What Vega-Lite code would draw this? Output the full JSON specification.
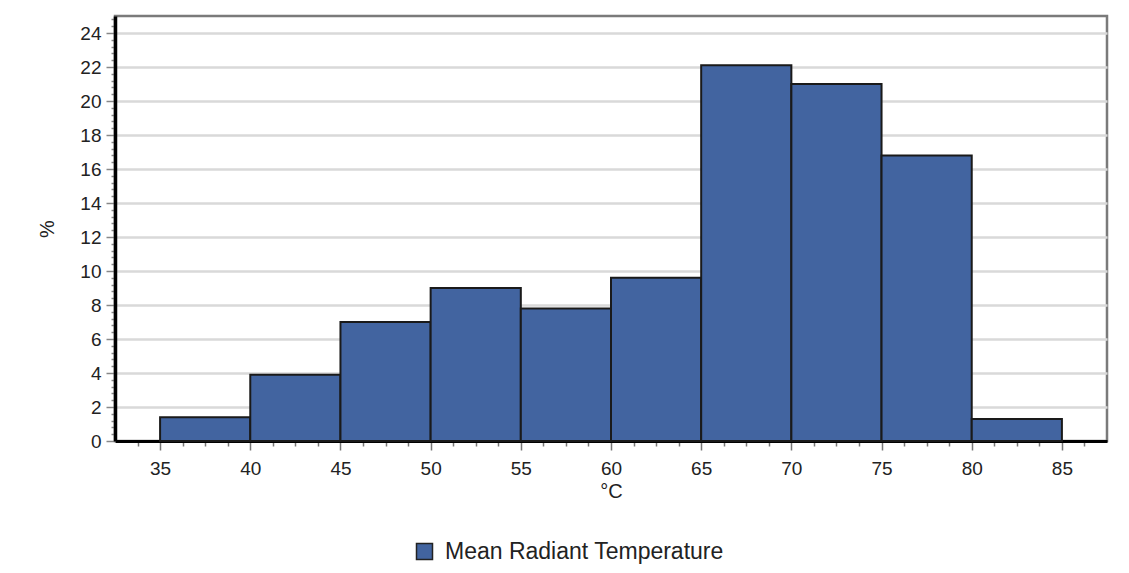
{
  "$schema": "https://vega.github.io/schema/vega-lite/v6.json",
  "width": 992,
  "height": 425,
  "autosize": {"type": "none"},
  "padding": {"left": 115, "top": 16, "right": 22, "bottom": 132},
  "background": "white",
  "config": {
    "font": "Liberation Sans",
    "view": {"stroke": "#7a7a7a", "strokeWidth": 2.5}
  },
  "data": {
    "values": [
      {"bin_start": 35, "bin_end": 40, "percent": 1.4, "series": "Mean Radiant Temperature"},
      {"bin_start": 40, "bin_end": 45, "percent": 3.9, "series": "Mean Radiant Temperature"},
      {"bin_start": 45, "bin_end": 50, "percent": 7.0, "series": "Mean Radiant Temperature"},
      {"bin_start": 50, "bin_end": 55, "percent": 9.0, "series": "Mean Radiant Temperature"},
      {"bin_start": 55, "bin_end": 60, "percent": 7.8, "series": "Mean Radiant Temperature"},
      {"bin_start": 60, "bin_end": 65, "percent": 9.6, "series": "Mean Radiant Temperature"},
      {"bin_start": 65, "bin_end": 70, "percent": 22.1, "series": "Mean Radiant Temperature"},
      {"bin_start": 70, "bin_end": 75, "percent": 21.0, "series": "Mean Radiant Temperature"},
      {"bin_start": 75, "bin_end": 80, "percent": 16.8, "series": "Mean Radiant Temperature"},
      {"bin_start": 80, "bin_end": 85, "percent": 1.3, "series": "Mean Radiant Temperature"}
    ]
  },
  "mark": {"type": "rect", "stroke": "#1a1a1a", "strokeWidth": 2},
  "encoding": {
    "x": {
      "field": "bin_start",
      "type": "quantitative",
      "scale": {"domain": [32.5, 87.5], "nice": false, "zero": false},
      "axis": {
        "title": "°C",
        "titleFontSize": 20,
        "titleFontWeight": "normal",
        "titleColor": "#222",
        "titlePadding": 3,
        "values": [33.75, 35, 36.25, 37.5, 38.75, 40, 41.25, 42.5, 43.75, 45, 46.25, 47.5, 48.75, 50, 51.25, 52.5, 53.75, 55, 56.25, 57.5, 58.75, 60, 61.25, 62.5, 63.75, 65, 66.25, 67.5, 68.75, 70, 71.25, 72.5, 73.75, 75, 76.25, 77.5, 78.75, 80, 81.25, 82.5, 83.75, 85, 86.25],
        "labelExpr": "datum.value % 5 == 0 ? format(datum.value, 'd') : ''",
        "labelFontSize": 19,
        "labelColor": "#222",
        "labelPadding": 9,
        "labelFlush": false,
        "labelOverlap": false,
        "grid": false,
        "domainColor": "#000",
        "domainWidth": 3,
        "tickColor": "#777",
        "tickWidth": 1.5,
        "tickSize": {"condition": {"test": "datum.value % 5 == 0", "value": 9}, "value": 5}
      }
    },
    "x2": {"field": "bin_end"},
    "y": {
      "field": "percent",
      "type": "quantitative",
      "scale": {"domain": [0, 25], "nice": false},
      "axis": {
        "title": "%",
        "titleFontSize": 20,
        "titleFontWeight": "normal",
        "titleColor": "#222",
        "titlePadding": 22,
        "values": [0, 0.4, 0.8, 1.2, 1.6, 2, 2.4, 2.8, 3.2, 3.6, 4, 4.4, 4.8, 5.2, 5.6, 6, 6.4, 6.8, 7.2, 7.6, 8, 8.4, 8.8, 9.2, 9.6, 10, 10.4, 10.8, 11.2, 11.6, 12, 12.4, 12.8, 13.2, 13.6, 14, 14.4, 14.8, 15.2, 15.6, 16, 16.4, 16.8, 17.2, 17.6, 18, 18.4, 18.8, 19.2, 19.6, 20, 20.4, 20.8, 21.2, 21.6, 22, 22.4, 22.8, 23.2, 23.6, 24, 24.4, 24.8],
        "labelExpr": "datum.value % 2 == 0 ? format(datum.value, 'd') : ''",
        "labelFontSize": 19,
        "labelColor": "#222",
        "labelPadding": 5,
        "labelOverlap": false,
        "labelFlush": false,
        "grid": true,
        "gridColor": "#d9d9d9",
        "gridWidth": 2.5,
        "gridOpacity": {"condition": {"test": "datum.value % 2 == 0 && datum.value > 0", "value": 1}, "value": 0},
        "domainColor": "#000",
        "domainWidth": 3.5,
        "tickColor": "#888",
        "tickWidth": 1.5,
        "tickSize": {"condition": {"test": "datum.value % 2 == 0", "value": 9}, "value": 4}
      }
    },
    "color": {
      "field": "series",
      "type": "nominal",
      "scale": {"range": ["#4264a0"]},
      "legend": {
        "title": null,
        "orient": "none",
        "legendX": 298,
        "legendY": 524,
        "symbolType": "square",
        "symbolSize": 256,
        "symbolStrokeColor": "#222",
        "symbolStrokeWidth": 1.5,
        "labelFontSize": 23,
        "labelColor": "#222",
        "labelOffset": 9,
        "labelLimit": 400
      }
    }
  }
}
